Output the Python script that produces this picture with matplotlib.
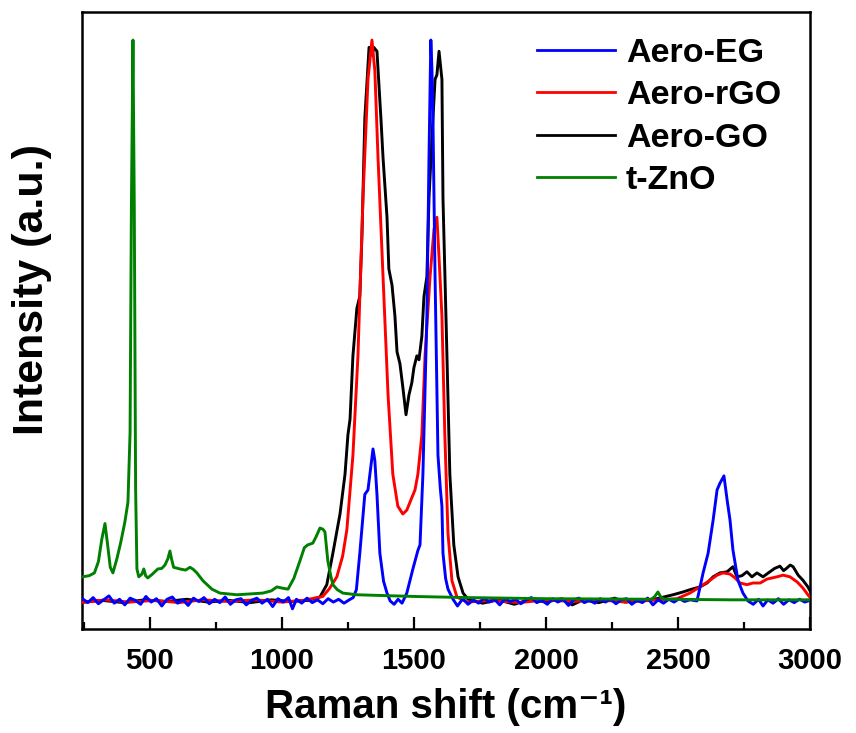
import matplotlib
matplotlib.use('Agg')
import matplotlib.pyplot as plt

plt.rcParams['font.family'] = ['Liberation Sans', 'DejaVu Sans']
plt.rcParams['font.weight'] = 'bold'

# Aero-GO (black)
go_x = [245, 320, 400, 480, 560, 640, 720, 800, 880, 960, 1040, 1100, 1144, 1170, 1193, 1220,
        1239, 1250, 1258, 1269, 1284, 1295, 1303, 1314, 1330, 1341, 1348, 1360, 1375, 1383,
        1398, 1405, 1417, 1428, 1436, 1447, 1458, 1470, 1481, 1492, 1500, 1511, 1519, 1530,
        1538, 1549, 1557, 1572, 1580, 1587, 1595, 1606, 1610, 1625, 1636, 1651, 1667, 1686,
        1705, 1760, 1820, 1880, 1940, 2000, 2060, 2100, 2140, 2200, 2260, 2300, 2360, 2420,
        2481, 2519, 2545, 2583, 2610, 2633, 2659, 2686, 2708, 2723, 2742, 2761, 2780, 2799,
        2822, 2848, 2866, 2886, 2900, 2913, 2925, 2936, 2955, 2973, 2992, 3000]
go_y = [-0.002, 0.001, -0.003, 0.002, -0.001, 0.003, -0.002, 0.001, -0.003, 0.002, -0.001,
        0.001, 0.007, 0.029, 0.085, 0.155, 0.226, 0.296, 0.324, 0.437, 0.522, 0.543, 0.649,
        0.86, 0.987, 0.973, 0.987, 0.98, 0.86, 0.79, 0.684, 0.592, 0.563, 0.508, 0.444, 0.423,
        0.381, 0.332, 0.367, 0.389, 0.416, 0.437, 0.43, 0.472, 0.543, 0.578, 0.718, 0.86, 0.93,
        0.938, 0.98, 0.93, 0.718, 0.437, 0.226, 0.1, 0.043, 0.014, 0.003, -0.004, 0.002,
        -0.006, 0.003, -0.002, 0.004, -0.007, 0.002, -0.003, 0.005, -0.002, 0.001, 0.004,
        0.011, 0.016, 0.02, 0.025, 0.032, 0.043, 0.05, 0.052, 0.061, 0.043, 0.045, 0.052,
        0.043, 0.05, 0.043, 0.052, 0.058, 0.062, 0.054, 0.059, 0.064, 0.061, 0.046, 0.037,
        0.025, 0.018]

# Aero-rGO (red)
rgo_x = [245, 330, 420, 520, 610, 700, 800, 900, 1000, 1080, 1155, 1180, 1208, 1230, 1246,
         1269, 1288, 1307, 1326, 1341, 1352, 1364, 1383, 1402, 1420, 1439, 1458, 1473, 1485,
         1504, 1515, 1530, 1542, 1561, 1576, 1587, 1595, 1606, 1617, 1629, 1644, 1663, 1700,
         1800, 1900, 2000, 2100, 2200, 2300, 2400, 2496, 2545, 2583, 2621, 2648, 2670, 2697,
         2716, 2735, 2761, 2784, 2811, 2837, 2875, 2898, 2924, 2951, 2973, 2992, 3000]
rgo_y = [-0.003, 0.002, -0.002, 0.001, -0.003, 0.002, -0.001, 0.002, -0.002, 0.001, 0.008,
         0.022, 0.043, 0.08, 0.127, 0.26, 0.437, 0.718, 0.93, 1.0, 0.945, 0.79, 0.578, 0.367,
         0.226, 0.169, 0.155, 0.162, 0.176, 0.198, 0.226, 0.296, 0.437, 0.578, 0.663, 0.684,
         0.613, 0.508, 0.296, 0.12, 0.036, 0.007, -0.002, 0.001, -0.003, 0.002, -0.001, 0.002,
         -0.002, 0.001, 0.004, 0.014, 0.025, 0.037, 0.046, 0.05, 0.048, 0.041, 0.032, 0.029,
         0.032, 0.032, 0.039, 0.043, 0.046, 0.043, 0.034, 0.023, 0.011, 0.006]

# Aero-EG (blue): noisy baseline, D and G bands, baseline, 2D band
eg_x = [245, 265, 285, 305, 325, 345, 365, 385, 405, 425, 445, 465, 485, 505, 525, 545, 565,
        585, 605, 625, 645, 665, 685, 705, 725, 745, 765, 785, 805, 825, 845, 865, 885, 905,
        925, 945, 965, 985, 1005, 1025, 1040, 1055, 1075, 1095, 1115, 1135, 1155, 1175, 1195,
        1215, 1235, 1255,
        1270, 1282, 1295, 1314, 1326, 1337, 1345, 1352, 1360, 1371, 1385,
        1398, 1410, 1425, 1440, 1455, 1473, 1496, 1515, 1523, 1534, 1549, 1557, 1564, 1568,
        1572, 1580, 1591, 1600, 1606, 1610, 1620, 1629, 1648, 1665,
        1685, 1705, 1725, 1745, 1765, 1785, 1805, 1825, 1845, 1865, 1885, 1905, 1925, 1945,
        1965, 1985, 2005, 2025, 2045, 2065, 2085, 2105, 2125, 2145, 2165, 2185, 2205, 2225,
        2245, 2265, 2285, 2305, 2325, 2345, 2365, 2385, 2405, 2425, 2445, 2465, 2485, 2505,
        2525, 2545, 2560,
        2572, 2595, 2614, 2633, 2648, 2659, 2674, 2686, 2697, 2708, 2727, 2746, 2765, 2785,
        2805, 2822, 2840, 2860, 2880, 2900, 2920, 2940, 2960, 2980, 3000]
eg_y = [0.004, -0.003, 0.006, -0.005, 0.002, 0.009, -0.004, 0.003, -0.007, 0.005, 0.001,
        -0.006, 0.008, -0.002, 0.004, -0.009, 0.003, 0.007, -0.004, 0.002, -0.008, 0.005,
        -0.001, 0.006, -0.005, 0.003, -0.003, 0.007, -0.006, 0.002, 0.004, -0.007, 0.001,
        0.005, -0.004, 0.003, -0.01, 0.004, -0.002, 0.006, -0.014, 0.003, -0.004, 0.005,
        -0.003, 0.002, -0.005, 0.004, -0.002, 0.003, -0.004, 0.002,
        0.006, 0.02, 0.085, 0.19, 0.198, 0.24, 0.271, 0.25, 0.19, 0.085, 0.035,
        0.014, 0.0, -0.006, 0.003, -0.004, 0.014, 0.057, 0.09, 0.1, 0.226, 0.508, 0.79, 1.0,
        0.95, 0.86, 0.578, 0.26, 0.2, 0.169, 0.085, 0.04, 0.021, 0.003, -0.009,
        0.004, -0.006, 0.002, -0.004, 0.005, -0.002, 0.003, -0.007, 0.004, -0.001, 0.003,
        -0.005, 0.002, 0.006, -0.003, 0.001, -0.006, 0.004, -0.002, 0.003, -0.008, 0.002,
        0.005, -0.003, 0.001, -0.004, 0.004, -0.002, 0.003, -0.005, 0.002, 0.004, -0.006,
        0.001, -0.003, 0.005, -0.007, 0.002, -0.004, 0.003, -0.002, 0.004, -0.001, 0.002,
        0.001,
        0.0, 0.05, 0.085, 0.144, 0.198, 0.21, 0.223, 0.18, 0.144, 0.091, 0.037, 0.014, 0.0,
        -0.006, 0.003, -0.009, 0.002, -0.004, 0.004, -0.006, 0.002, -0.003, 0.003, -0.002,
        0.001]

# t-ZnO (green)
zno_x = [245, 270, 290, 305, 318, 330, 340, 350, 360, 375, 390, 405, 417, 425, 430, 436, 441,
         446, 451, 458, 470, 477, 484, 492, 510, 530, 545, 557, 568, 576, 582, 590, 614, 635,
         652, 665, 678, 701, 735, 765, 830, 928, 960, 981, 1000, 1023, 1045, 1068, 1085, 1098,
         1117, 1130, 1144, 1155, 1163, 1174, 1185, 1193, 1210, 1231, 1284, 1500, 1700, 2000,
         2400, 2412, 2424, 2436, 2450, 2700, 3000]
zno_y = [0.043, 0.045, 0.05, 0.07, 0.11, 0.138, 0.1, 0.06, 0.05, 0.075, 0.105, 0.14, 0.176,
         0.3, 0.7, 1.0, 0.7, 0.2, 0.057, 0.043, 0.048, 0.057, 0.045, 0.041, 0.048, 0.057,
         0.058, 0.064, 0.075, 0.089, 0.075, 0.06, 0.057, 0.055, 0.06, 0.056, 0.05, 0.036,
         0.021, 0.014, 0.011, 0.014, 0.018, 0.025, 0.023, 0.021, 0.04, 0.071, 0.095, 0.1,
         0.103, 0.115, 0.13, 0.128, 0.123, 0.071, 0.045, 0.029, 0.02, 0.014, 0.011, 0.008,
         0.006, 0.004, 0.003, 0.008, 0.016, 0.006, 0.003, 0.002, 0.002]

fig = plt.figure(figsize=(8.56, 7.33), dpi=100)
ax = fig.add_axes([0.0958, 0.1419, 0.8505, 0.8417])

lw = 2.1
ax.plot(go_x, go_y, color='black', lw=lw, label='Aero-GO', zorder=2)
ax.plot(rgo_x, rgo_y, color='#FF0000', lw=lw, label='Aero-rGO', zorder=3)
ax.plot(eg_x, eg_y, color='#0000FF', lw=lw, label='Aero-EG', zorder=4)
ax.plot(zno_x, zno_y, color='#008000', lw=lw, label='t-ZnO', zorder=5)

ax.set_xlim(243, 3000)
ax.set_ylim(-0.05, 1.05)
ax.set_xticks([500, 1000, 1500, 2000, 2500, 3000])
ax.set_xticks([250, 750, 1250, 1750, 2250, 2750], minor=True)
ax.set_yticks([])
ax.tick_params(axis='x', which='major', direction='in', length=8.5, width=1.6,
               labelsize=21, pad=13, top=False)
ax.tick_params(axis='x', which='minor', direction='in', length=5, width=1.6, top=False)
for sp in ax.spines.values():
    sp.set_linewidth(1.8)

ax.set_xlabel('Raman shift (cm⁻¹)', fontsize=29, fontweight='bold', labelpad=9)
ax.set_ylabel('Intensity (a.u.)', fontsize=31, fontweight='bold')
ax.yaxis.set_label_coords(-0.041, 0.55)

h, l = ax.get_legend_handles_labels()
order = [2, 1, 0, 3]
ax.legend([h[i] for i in order], [l[i] for i in order], loc='upper left',
          bbox_to_anchor=(0.627, 0.948), bbox_transform=fig.transFigure, frameon=False,
          handlelength=2.3, handletextpad=0.32, labelspacing=0.33,
          borderpad=0, borderaxespad=0, prop={'weight': 'bold', 'size': 24.5})
for line in ax.get_legend().get_lines():
    line.set_linewidth(2.0)

fig.savefig('out.png', dpi=100)
